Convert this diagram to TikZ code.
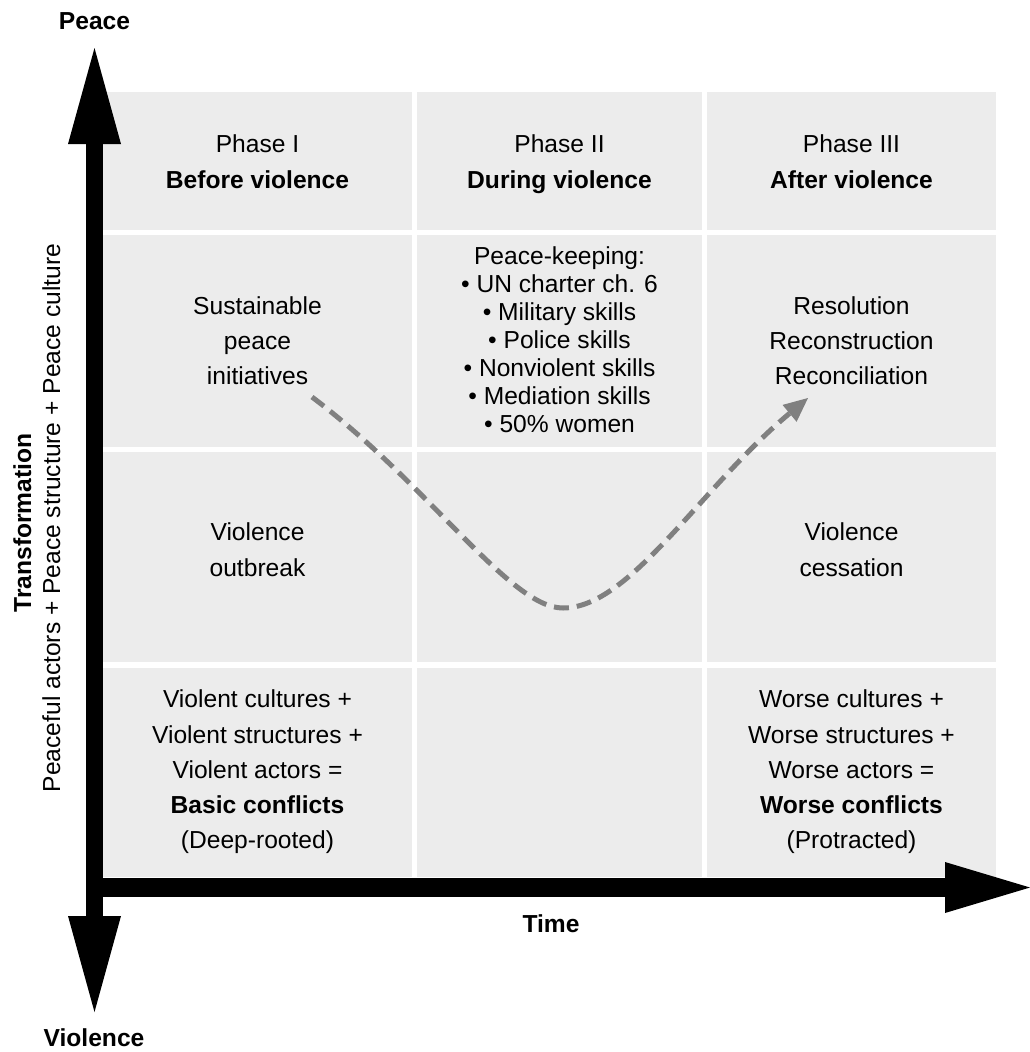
\documentclass[tikz,border=0pt]{standalone}
\usepackage{fontspec}
\setmainfont{Liberation Sans}
\usetikzlibrary{arrows.meta}
\definecolor{cellgray}{RGB}{236,236,236}
\definecolor{curvegray}{RGB}{128,128,128}
\newcommand\celltext[1]{\begin{tabular}[t]{@{}c@{}}#1\end{tabular}}
\begin{document}
\begin{tikzpicture}[x=1pt,y=-1pt,
  txt/.style={inner sep=0pt,anchor=base,font=\fontsize{24.6}{35.3}\selectfont},
  listtxt/.style={inner sep=0pt,anchor=base,font=\fontsize{24.6}{28}\selectfont},
  boldtxt/.style={inner sep=0pt,anchor=base,font=\fontsize{24.6}{29}\selectfont\bfseries},
  cellbox/.style={fill=cellgray},
  axisline/.style={draw=black,line cap=butt},
  trend/.style={draw=curvegray,line width=5pt,dash pattern=on 15pt off 8pt,
     -{Triangle[length=24pt,width=22pt,line width=0pt]}}]
\useasboundingbox (0,0) rectangle (1030,1052);
% cells
\foreach \xa/\xb in {103/412,417/702,707/996}
  \foreach \ya/\yb in {92/230,235/447,452/662,668/877}
    \fill[cellbox] (\xa,\ya) rectangle (\xb,\yb);
% axes
\coordinate (ytop) at (94.5,48);
\coordinate (ybot) at (94.5,1012);
\coordinate (xstart) at (86,887.5);
\coordinate (xend) at (1030,887.5);
\draw[axisline,line width=17pt,
  {Triangle[length=96pt,width=53pt,line width=0pt]}-{Triangle[length=96pt,width=53pt,line width=0pt]}]
  (ybot) -- (ytop);
\draw[axisline,line width=19pt,-{Triangle[length=85pt,width=51pt,line width=0pt]}]
  (xstart) -- (xend);
% axis labels
\node[boldtxt] (peace) at (94.5,29.3) {Peace};
\node[boldtxt] (violence) at (94,1046.5) {Violence};
\node[boldtxt] (time) at (551,932.3) {Time};
\node[boldtxt,rotate=90] (transf) at (31,523) {Transformation};
\node[txt,rotate=90] (peacefactors) at (60,518) {Peaceful actors + Peace structure + Peace culture};
% header row
\node[txt] (ph1) at (257.5,152.7) {\celltext{Phase I\\\textbf{Before violence}}};
\node[txt] (ph2) at (559.5,152.7) {\celltext{Phase II\\\textbf{During violence}}};
\node[txt] (ph3) at (851.5,152.7) {\celltext{Phase III\\\textbf{After violence}}};
% row 2
\node[txt] (sust) at (257.5,314) {\celltext{Sustainable\\peace\\initiatives}};
\node[listtxt] (keep) at (559.5,264.3) {\celltext{Peace-keeping:\\• UN charter ch. 6\\• Military skills\\• Police skills\\• Nonviolent skills\\• Mediation skills\\• 50\% women}};
\node[txt] (resol) at (851.5,314) {\celltext{Resolution\\Reconstruction\\Reconciliation}};
% row 3
\node[txt] (outbreak) at (257.5,540.7) {\celltext{Violence\\outbreak}};
\node[txt] (cessation) at (851.5,540.7) {\celltext{Violence\\cessation}};
% row 4
\node[txt] (basic) at (257.5,707.7) {\celltext{Violent cultures +\\Violent structures +\\Violent actors =\\\textbf{Basic conflicts}\\(Deep-rooted)}};
\node[txt] (worse) at (851.5,707.7) {\celltext{Worse cultures +\\Worse structures +\\Worse actors =\\\textbf{Worse conflicts}\\(Protracted)}};
% trend curve
\coordinate (cs) at (312,397);
\coordinate (cm) at (563,608);
\coordinate (ce) at (808,398);
\draw[trend] (cs) .. controls (430,486) and (510,608) .. (cm)
  .. controls (630,608) and (700,488) .. (ce);
\end{tikzpicture}
\end{document}
